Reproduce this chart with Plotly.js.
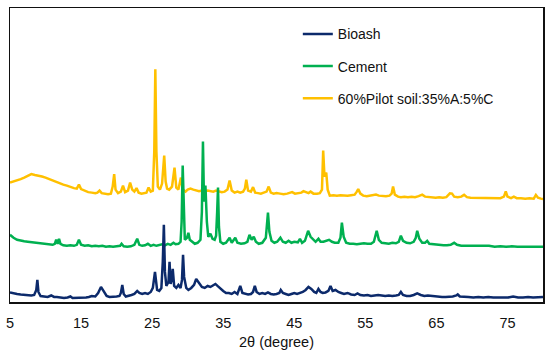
<!DOCTYPE html>
<html>
<head>
<meta charset="utf-8">
<script src="https://cdn.plot.ly/plotly-3.0.1.min.js"></script>
<style>html,body{margin:0;padding:0;background:#fff;}#chart{width:550px;height:358px;}</style>
</head>
<body>
<div id="chart"></div>
<script>
// 2θ (degree) and relative intensity (arbitrary units, stacked offsets as in the figure)
const bioashX = [5,5.5,6,6.5,7,7.5,8,8.4,8.7,8.85,9.0,9.3,9.8,10.3,10.8,11.2,11.6,12.1,12.6,13.1,13.5,13.8,14.2,14.7,15.2,15.7,16.1,16.5,17.0,17.4,17.8,18.2,18.6,19.0,19.5,20.0,20.4,20.6,20.8,21.0,21.3,21.7,22.1,22.5,22.9,23.2,23.6,24.0,24.4,24.8,25.1,25.4,25.7,26.0,26.3,26.5,26.65,26.8,27.0,27.3,27.45,27.6,27.75,27.9,28.1,28.4,28.7,29.0,29.2,29.35,29.5,29.8,30.1,30.5,30.9,31.2,31.4,31.7,32.0,32.4,32.8,33.2,33.6,33.9,34.2,34.6,35.0,35.4,35.8,36.2,36.6,37.0,37.4,37.7,38.1,38.5,38.9,39.2,39.45,39.7,40.1,40.5,40.9,41.3,41.7,42.1,42.5,42.9,43.1,43.4,43.8,44.2,44.6,45.0,45.4,45.8,46.2,46.6,47.0,47.4,47.8,48.1,48.4,48.7,49.0,49.4,49.8,50.1,50.4,50.8,51.2,51.6,52.0,52.5,53.0,53.5,53.9,54.3,54.8,55.3,55.8,56.3,56.8,57.3,57.8,58.3,58.8,59.3,59.7,60.0,60.3,60.8,61.3,61.8,62.3,62.8,63.3,63.8,64.3,64.8,65.3,65.8,66.3,66.8,67.3,67.8,68.0,68.3,68.8,69.5,70.2,70.9,71.6,72.3,73.0,73.7,74.4,75.1,75.8,76.5,77.2,77.9,78.6,79.3,80];
const bioashY = [9.5,8.5,8,7.5,7,6.5,6.5,7,12,22,10,6,5.5,5,6.5,5,5,4.5,4,4.5,5.5,4,4,4.5,4,4.5,5,6,5.5,9,15,10,6,5,5,5.5,6,9,17,8,5.5,6,7,8,11,9,8,9,8,10,14,30,12,11,14,40,77,30,16,20,40,18,22,33,16,14,17,14,22,47,25,14,12,14,17,23,21,18,15,14,16,15,17,18,16,13,11,9,9,8,10,8,16,9,8,7.5,8,10,16,10,8,9,8,9.5,8,7.5,8,9,12,9,8,7,8,9,8,9,10,12,15,13,10,9,13,10,9,9.5,11,16,11,12,10,9,8,9,7.5,7,8.5,7,6.5,7,6,6.5,7,6.5,6,6.5,6,6.5,7,10,7,6,6,7,8.5,7,6,6.5,6,6,5,5,5,5,5.5,6.5,7.5,5.5,5,5,4.5,5,4.5,5,4.5,4.5,5,4.5,5.5,4.5,4.5,5,4.5,4.5,5];

const cementX = [5,5.5,6,6.5,7,7.5,8,8.5,9,9.5,10,10.5,11,11.3,11.5,11.7,11.9,12.1,12.5,13,13.5,14,14.4,14.7,15.0,15.5,16,16.5,17,17.5,18,18.5,19,19.5,20,20.5,20.7,21,21.5,22,22.5,22.9,23.2,23.6,24,24.4,24.8,25.2,25.6,26,26.4,26.8,27.2,27.6,28.0,28.3,28.7,29.0,29.15,29.3,29.45,29.6,29.9,30.1,30.3,30.6,31.0,31.4,31.8,32.0,32.15,32.3,32.5,32.7,32.9,33.2,33.5,33.8,34.0,34.15,34.27,34.4,34.6,35.0,35.4,35.9,36.2,36.7,37.0,37.5,38.0,38.4,38.7,39.0,39.3,39.6,40.0,40.5,41.0,41.3,41.5,41.8,42.2,42.6,43.05,43.4,43.8,44.2,44.6,45.0,45.5,45.8,46.1,46.5,46.95,47.3,47.7,48.0,48.4,48.7,49.1,49.5,49.9,50.3,50.7,51.2,51.5,51.7,51.95,52.3,52.8,53.3,53.8,54.3,54.8,55.3,55.8,56.2,56.6,56.9,57.3,57.8,58.3,58.8,59.3,59.7,60.0,60.3,60.8,61.3,61.8,62.1,62.3,62.6,63.0,63.4,63.7,64.0,64.5,65.0,65.5,66.0,66.5,67.0,67.5,67.9,68.5,69.2,70.0,70.8,71.6,72.4,73.2,74.0,74.8,75.6,76.4,77.2,78.0,78.8,79.5,80];
const cementY = [67,64,62,61,60.5,60,59.5,59,58.5,58,57.5,57,57,58,62,58,63,58,56.5,56,56.5,56,57,62,57,56,56.5,55.5,56,55.5,56,55,55.5,55,55.5,56,58,55.5,55,55.5,57,63,57,56,56.5,58,56,57,56,57,57.5,56.5,58,57,59,57.5,58,60,80,136,80,62,64,69,62,60,58,59,62,90,160,100,116,80,65,68,63,62,66,90,114,75,60,58,59,64,59,64,59,58,58.5,60,67,62,65,60,58,59,64,89,70,61,59,60,64,60,59,61,59,60,59.5,63,59,61,71,65,62,60,63,60,60,61,62,60,59,59,64,79,65,59,58,58,57.5,58,58.5,58,58,60,71,62,59,58.5,58,59,58.5,60,66,61,59,58.5,60,64,71,63,59,59,61,58,57.5,57,56.5,56.5,56.5,57,59,57,56,56,55.5,55.5,55.5,56,55,55.5,55,55.5,55,55,55.5,55,55,55];

const mixX = [5,5.5,6,6.5,7,7.5,8,8.5,9,9.5,10,10.5,11,11.5,12,12.5,13,13.5,14,14.4,14.7,15.0,15.5,16,16.5,17,17.3,17.6,17.9,18.3,18.8,19.2,19.45,19.66,19.85,20.2,20.6,20.9,21.2,21.6,21.9,22.2,22.5,22.8,23.1,23.5,23.9,24.2,24.5,24.8,25.1,25.3,25.45,25.6,25.8,26.1,26.4,26.7,26.9,27.1,27.4,27.8,28.15,28.4,28.7,29.05,29.3,29.7,30.0,30.4,30.8,31.2,31.6,32.0,32.4,32.8,33.2,33.6,34.0,34.4,34.8,35.2,35.6,35.9,36.2,36.6,37.0,37.4,37.8,38.05,38.25,38.5,38.9,39.2,39.5,39.9,40.3,40.7,41.1,41.4,41.7,42.1,42.5,43.0,43.5,44.0,44.7,45.1,45.6,46.0,46.3,46.7,47.0,47.3,47.7,48.2,48.6,48.9,49.07,49.25,49.5,49.7,50.0,50.5,51.0,51.5,52.0,52.5,53.0,53.5,53.8,54.0,54.3,54.7,55.2,55.7,56.2,56.5,56.9,57.4,57.9,58.4,58.7,58.9,59.15,59.6,60.0,60.5,61.0,61.5,62.0,62.5,63.0,63.4,63.9,64.4,64.9,65.4,65.9,66.4,66.7,66.9,67.2,67.5,68.0,68.5,68.9,69.3,69.8,70.4,71.0,71.6,72.2,72.8,73.4,74.0,74.5,74.76,75.0,75.5,75.9,76.3,76.9,77.5,78.1,78.7,79.0,79.3,79.7,80];
const mixY = [119,120,121,122.5,124,126,127.5,126.5,126,125,124,122.5,121,119.5,118.5,117,116,114.5,113.5,113,117,112.5,111,109.5,109,108.5,109,111,108.5,108,107.5,108,115,127.5,112,108.5,110,116,109.5,111,119,112,110,113.5,109,108,108.5,109,114,110,111,150,232,150,115,112,118,146,120,113,112,115,134,114,112,124,112,110,112,113,112,111,110.5,111,110,111,110.5,110,111,110,109.5,110,112,121,111,109,110,109,110,113,122,111,110,114.5,109,108.5,108,109,110,115,109,108,108.5,108,107.5,108,109.5,108,108.5,109,110.5,109,108.5,110,108,108,108.5,112,151,125,129,112,106,106.5,106,106.5,106,106,106.5,107,110,112.5,108,106,105.5,106,106,107,106,105.5,105.5,106,108,115,107,105,104.5,105,104.5,105,104.5,105.5,107,105,104.5,104.5,104,104.5,104,104.5,107,108.3,108,105,104.5,105,106.8,104.5,104,104,103.5,104,103.5,104,103.5,103.5,105,110.3,105,103.5,105,103.5,103.5,103,103.5,103,106.7,104,103,102.7];

const names = ['Bioash', 'Cement', '60%Pilot soil:35%A:5%C'];
const colors = ['#0c2a6b', '#00b050', '#ffc000'];
const xTicks = [5, 15, 25, 35, 45, 55, 65, 75];

const mk = (x, y, i) => ({
  x: x, y: y, type: 'scatter', mode: 'lines', name: names[i],
  legendgroup: 'g' + i, legendrank: i + 1,
  line: {color: colors[i], width: 2.5}
});

const data = [mk(mixX, mixY, 2), mk(cementX, cementY, 1), mk(bioashX, bioashY, 0)];

const layout = {
  width: 550, height: 358,
  margin: {l: 10, r: 7, t: 8, b: 56},
  paper_bgcolor: '#fff', plot_bgcolor: '#fff',
  font: {family: 'Liberation Sans, Arial, sans-serif', size: 14, color: '#111'},
  showlegend: true,
  legend: {x: 0.54, y: 0.965, xanchor: 'left', yanchor: 'top', tracegroupgap: 11,
           font: {size: 14, color: '#111'}, bgcolor: 'rgba(0,0,0,0)'},
  xaxis: {range: [5, 80], tickvals: xTicks, ticktext: xTicks.map(String),
          ticks: '', showgrid: false, zeroline: false,
          showline: true, mirror: true, linecolor: '#111', linewidth: 1.5,
          ticklabelstandoff: 7, tickfont: {size: 14.5},
          title: {text: '2θ (degree)', font: {size: 14.5}, standoff: 7}},
  yaxis: {range: [0, 293], showticklabels: false, ticks: '', showgrid: false, zeroline: false,
          showline: true, mirror: true, linecolor: '#111', linewidth: 1.5}
};

Plotly.newPlot('chart', data, layout, {displayModeBar: false, staticPlot: true});
</script>
</body>
</html>
